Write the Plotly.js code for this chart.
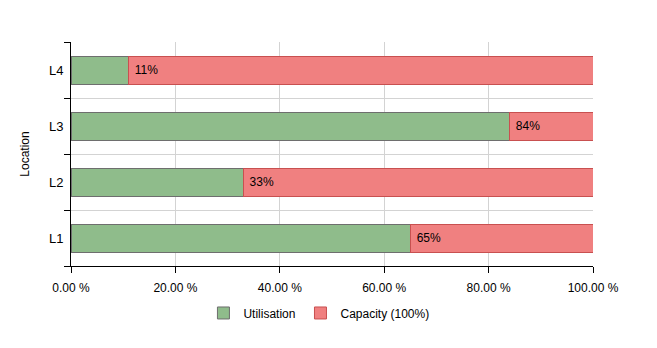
<!DOCTYPE html>
<html><head><meta charset="utf-8">
<script src="https://cdn.plot.ly/plotly-3.0.1.min.js"></script>
<style>body{margin:0;}#c{width:657px;height:348px;}</style>
</head><body><div id="c"></div>
<script>
const locations = ["L1", "L2", "L3", "L4"];
const utilisation = [65, 33, 84, 11];
const capacity = [100, 100, 100, 100];
const xTicks = [0, 20, 40, 60, 80, 100];
const xTickLabels = ["0.00 %", "20.00 %", "40.00 %", "60.00 %", "80.00 %", "100.00 %"];
const remainder = capacity.map((c, i) => c - utilisation[i]);
const labels = utilisation.map(v => " " + v + "%");

const data = [
  {type: "bar", orientation: "h", name: "Utilisation", y: locations, x: utilisation,
   marker: {color: "#8fbc8b", line: {color: "#6e6e6e", width: 1}}, hoverinfo: "none"},
  {type: "bar", orientation: "h", name: "Capacity (100%)", y: locations, x: remainder,
   text: labels, textposition: "inside", insidetextanchor: "start", constraintext: "none",
   textfont: {color: "#000", size: 12, family: "Liberation Sans, Arial, sans-serif"},
   marker: {color: "#f08080", line: {color: "#c85050", width: 1}}, hoverinfo: "none"}
];
const layout = {
  width: 657, height: 348, barmode: "stack", bargap: 0.5,
  margin: {l: 71, r: 64, t: 42, b: 82},
  font: {family: "Liberation Sans, Arial, sans-serif", size: 12, color: "#000"},
  paper_bgcolor: "#fff", plot_bgcolor: "#fff",
  xaxis: {range: [0, 100], tickmode: "array", tickvals: xTicks, ticktext: xTickLabels,
    showgrid: true, gridcolor: "#d3d3d3", zeroline: false, showline: true, linecolor: "#000",
    ticks: "outside", ticklen: 6, tickcolor: "#000", ticklabelstandoff: 5, fixedrange: true},
  yaxis: {range: [-0.5, 3.5], tickson: "boundaries", ticks: "outside", ticklen: 6, tickcolor: "#000",
    tickfont: {size: 13}, ticklabelstandoff: 4,
    showgrid: true, gridcolor: "#d3d3d3", showline: true, linecolor: "#000", zeroline: false,
    title: {text: "Location", font: {size: 12}, standoff: 16}, fixedrange: true},
  legend: {orientation: "h", traceorder: "normal", x: 0.475, xanchor: "center", y: -0.145, yanchor: "top", font: {size: 12}},
  showlegend: true
};
Plotly.newPlot("c", data, layout, {displayModeBar: false, staticPlot: true});
</script></body></html>
